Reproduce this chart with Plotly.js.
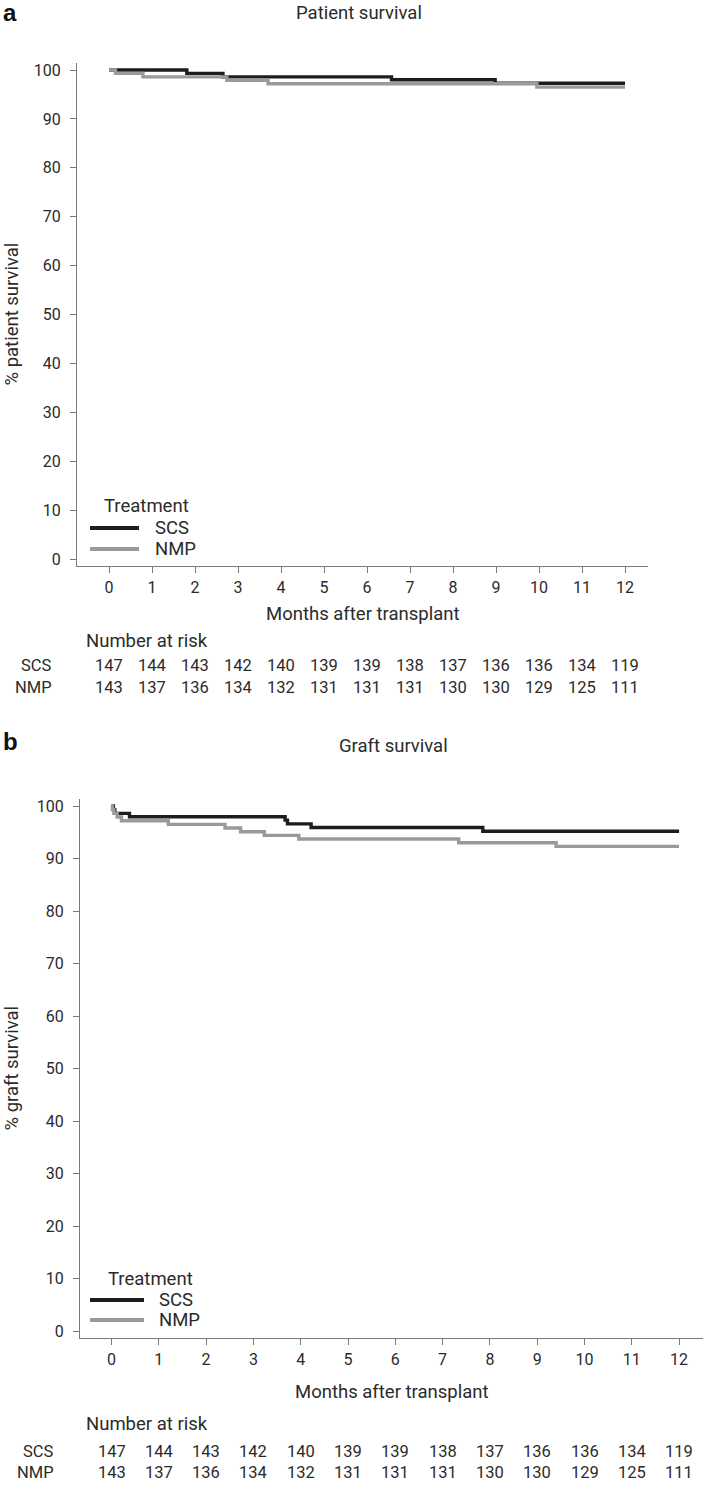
<!DOCTYPE html>
<html>
<head>
<meta charset="utf-8">
<script src="https://cdn.plot.ly/plotly-3.0.1.min.js"></script>
<style>
  html, body { margin: 0; padding: 0; background: #fff; }
  #chart { width: 705px; height: 1485px; }
</style>
</head>
<body>
<div id="chart"></div>
<script>
// ---------------- DATA ----------------
const months = [0, 1, 2, 3, 4, 5, 6, 7, 8, 9, 10, 11, 12];
const yTicks = [0, 10, 20, 30, 40, 50, 60, 70, 80, 90, 100];
const groups = ["SCS", "NMP"];

// Panel a: patient survival (Kaplan–Meier steps)
const patientSCS_t = [0, 1.81, 2.65, 6.57, 8.98, 12];
const patientSCS_s = [100, 99.3, 98.6, 98.0, 97.3, 97.3];
const patientNMP_t = [0, 0.15, 0.79, 2.74, 3.70, 9.95, 12];
const patientNMP_s = [100, 99.3, 98.6, 97.9, 97.2, 96.5, 96.5];

// Panel b: graft survival
const graftSCS_t = [0, 0.04, 0.07, 0.38, 3.67, 3.72, 4.22, 7.85, 12];
const graftSCS_s = [100, 99.3, 98.6, 97.96, 97.3, 96.6, 95.9, 95.2, 95.2];
const graftNMP_t = [0, 0.02, 0.05, 0.12, 0.21, 1.20, 2.40, 2.73, 3.23, 3.96, 7.34, 9.40, 12];
const graftNMP_s = [100, 99.3, 98.6, 97.9, 97.2, 96.5, 95.8, 95.1, 94.4, 93.7, 93.0, 92.3, 92.3];

// Number at risk
const riskSCS_a = [147, 144, 143, 142, 140, 139, 139, 138, 137, 136, 136, 134, 119];
const riskNMP_a = [143, 137, 136, 134, 132, 131, 131, 131, 130, 130, 129, 125, 111];
const riskSCS_b = [147, 144, 143, 142, 140, 139, 139, 138, 137, 136, 136, 134, 119];
const riskNMP_b = [143, 137, 136, 134, 132, 131, 131, 131, 130, 130, 129, 125, 111];

// ---------------- STYLE ----------------
const W = 705, H = 1485;
const px = v => v / W;
const py = v => 1 - v / H;
const FONT = "Roboto, 'Liberation Sans', Arial, sans-serif";
const TXT = "#2b2b2b";
const AX = "#7a7a7a";
const BLACK = "#1d1d1d";
const GREY = "#9a9a9a";
const LW = 3.4;
const FS_T = 18.5;   // titles, axis titles, legend, "Number at risk"
const FS_N = 16.5;   // numbers at risk
const FS_K = 16;     // tick labels

function stepTrace(t, s, name, color, xa, ya) {
  return { x: t, y: s, name: name, type: "scatter", mode: "lines",
    line: { shape: "hv", color: color, width: LW },
    xaxis: xa, yaxis: ya, showlegend: false, hoverinfo: "x+y+name" };
}

const data = [
  stepTrace(patientSCS_t, patientSCS_s, "SCS", BLACK, "x", "y"),
  stepTrace(patientNMP_t, patientNMP_s, "NMP", GREY, "x", "y"),
  stepTrace(graftSCS_t, graftSCS_s, "SCS", BLACK, "x2", "y2"),
  stepTrace(graftNMP_t, graftNMP_s, "NMP", GREY, "x2", "y2")
];

function xAxisCfg(domain, range, anchor) {
  return { domain: domain, range: range, anchor: anchor, tickmode: "array", tickvals: months,
    ticktext: months.map(String), ticks: "outside", ticklen: 6, tickwidth: 1, tickcolor: AX,
    showline: true, linecolor: AX, linewidth: 1, showgrid: false, zeroline: false,
    ticklabelstandoff: 1, tickfont: { family: FONT, size: FS_K, color: TXT }, fixedrange: true };
}
function yAxisCfg(domain, range, anchor) {
  return { domain: domain, range: range, anchor: anchor, tickmode: "array", tickvals: yTicks,
    ticks: "outside", ticklen: 6, tickwidth: 1, tickcolor: AX,
    showline: true, linecolor: AX, linewidth: 1, showgrid: false, zeroline: false,
    ticklabelstandoff: 6, tickfont: { family: FONT, size: FS_K, color: TXT }, fixedrange: true };
}

// geometry (pixels)
const A = { left: 77, right: 648, x0: 109, dx: 43, top: 63, bottom: 566, y100: 70, y0: 559 };
const B = { left: 80, right: 703, x0: 111.5, dx: 47.3, top: 799, bottom: 1338, y100: 806, y0: 1331 };
function ranges(G) {
  const u = (G.y0 - G.y100) / 100;
  return {
    xr: [(G.left - G.x0) / G.dx, (G.right - G.x0) / G.dx],
    yr: [(G.y0 - G.bottom) / u, (G.y0 - G.top) / u],
    xd: [px(G.left), px(G.right)],
    yd: [py(G.bottom), py(G.top)]
  };
}
const RA = ranges(A), RB = ranges(B);

const ann = [];
function txt(x, y, text, opts) {
  ann.push(Object.assign({ x: x, y: y, xref: "paper", yref: "paper", text: text, showarrow: false,
    xanchor: "center", yanchor: "middle", font: { family: FONT, size: FS_T, color: TXT } }, opts || {}));
}

// Panel letters & titles
txt(px(1), py(12), "<b>a</b>", { xanchor: "left", font: { family: "'Liberation Sans', Arial, sans-serif", size: 24, color: "#111" } });
txt(px(359), py(13), "Patient survival");
txt(px(1), py(741), "<b>b</b>", { xanchor: "left", font: { family: "'Liberation Sans', Arial, sans-serif", size: 24, color: "#111" } });
txt(px(393), py(746), "Graft survival");

// Axis titles
txt(px(11), py((A.top + A.bottom) / 2), "% patient survival", { textangle: -90 });
txt(px(363), py(614), "Months after transplant");
txt(px(11), py((B.top + B.bottom) / 2), "% graft survival", { textangle: -90 });
txt(px(392), py(1392), "Months after transplant");

// Number at risk tables
function riskTable(xref, yHead, ySCS, yNMP, scs, nmp, labelRight) {
  txt(px(84), py(yHead), "Number at risk", { xanchor: "left" });
  txt(px(labelRight), py(ySCS), groups[0], { xanchor: "right", font: { family: FONT, size: FS_N, color: TXT } });
  txt(px(labelRight), py(yNMP), groups[1], { xanchor: "right", font: { family: FONT, size: FS_N, color: TXT } });
  months.forEach((m, i) => {
    ann.push({ x: m, xref: xref, y: py(ySCS), yref: "paper", text: String(scs[i]), showarrow: false,
      xanchor: "center", yanchor: "middle", font: { family: FONT, size: FS_N, color: TXT } });
    ann.push({ x: m, xref: xref, y: py(yNMP), yref: "paper", text: String(nmp[i]), showarrow: false,
      xanchor: "center", yanchor: "middle", font: { family: FONT, size: FS_N, color: TXT } });
  });
}
riskTable("x", 641, 665, 687, riskSCS_a, riskNMP_a, 54);
riskTable("x2", 1424, 1451, 1472, riskSCS_b, riskNMP_b, 56);

// Custom legends (Treatment)
const shapes = [];
function legend(xLine0, xLine1, yT, yS, yN, xTitle, xText) {
  txt(px(xTitle), py(yT), "Treatment", { xanchor: "left" });
  shapes.push({ type: "line", xref: "paper", yref: "paper", x0: px(xLine0), x1: px(xLine1), y0: py(yS), y1: py(yS),
    line: { color: BLACK, width: 4 } });
  shapes.push({ type: "line", xref: "paper", yref: "paper", x0: px(xLine0), x1: px(xLine1), y0: py(yN), y1: py(yN),
    line: { color: GREY, width: 4 } });
  txt(px(xText), py(yS), groups[0], { xanchor: "left" });
  txt(px(xText), py(yN), groups[1], { xanchor: "left" });
}
legend(90, 139, 506, 528, 549, 102, 153);
legend(90, 144, 1279, 1300, 1320, 106, 157);

const layout = {
  width: W, height: H,
  margin: { l: 0, r: 0, t: 0, b: 0 },
  paper_bgcolor: "#fff", plot_bgcolor: "#fff",
  showlegend: false,
  xaxis: xAxisCfg(RA.xd, RA.xr, "y"),
  yaxis: yAxisCfg(RA.yd, RA.yr, "x"),
  xaxis2: xAxisCfg(RB.xd, RB.xr, "y2"),
  yaxis2: yAxisCfg(RB.yd, RB.yr, "x2"),
  annotations: ann,
  shapes: shapes
};

Plotly.newPlot("chart", data, layout, { displayModeBar: false, staticPlot: true });
</script>
</body>
</html>
